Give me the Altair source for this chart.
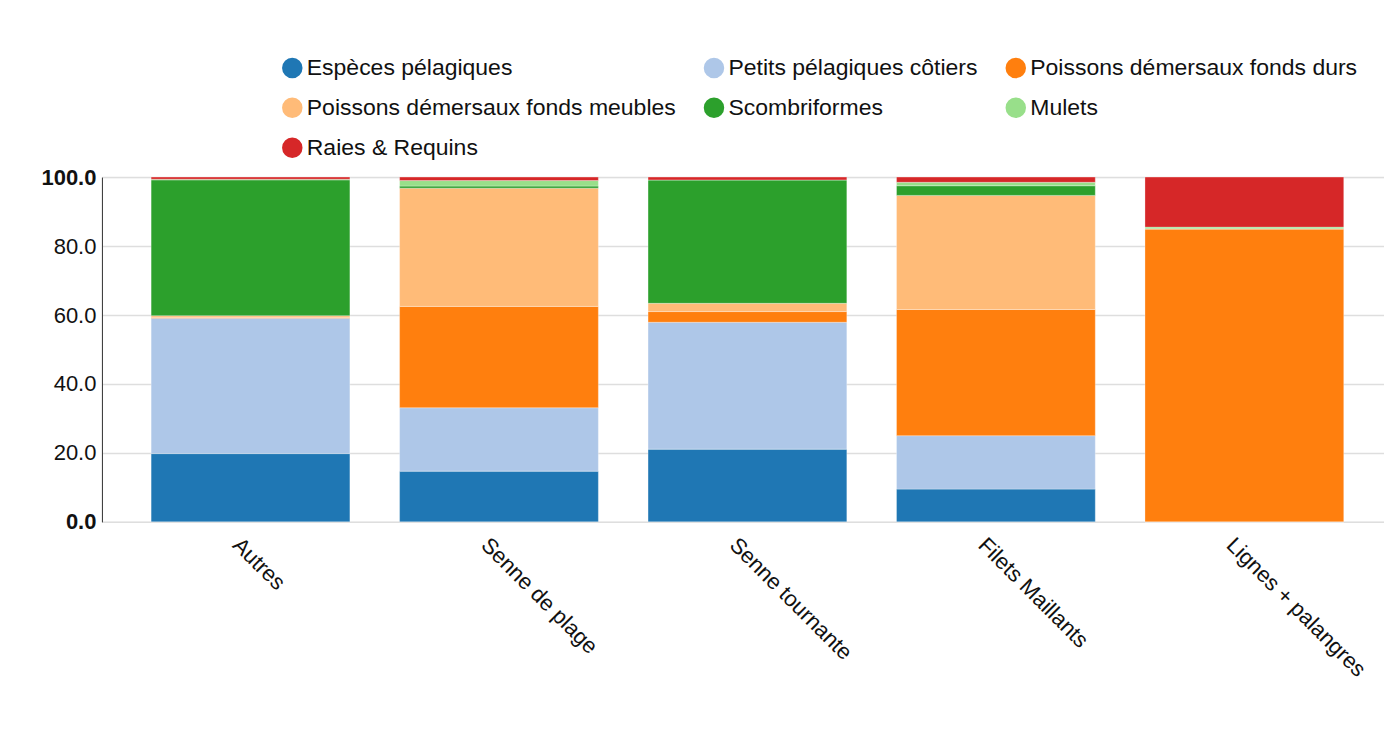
import altair as alt
import pandas as pd

engins = ["Autres", "Senne de plage", "Senne tournante", "Filets Maillants", "Lignes + palangres"]
groupes = [
    "Espèces pélagiques",
    "Petits pélagiques côtiers",
    "Poissons démersaux fonds durs",
    "Poissons démersaux fonds meubles",
    "Scombriformes",
    "Mulets",
    "Raies & Requins",
]
couleurs = ["#1f77b4", "#aec7e8", "#ff7f0e", "#ffbb78", "#2ca02c", "#98df8a", "#d62728"]

# percentages per gear, in the order of `groupes`
autres = [19.8, 39.3, 0.2, 0.5, 39.4, 0.2, 0.6]
senne_plage = [14.7, 18.4, 29.4, 34.3, 0.6, 1.6, 1.0]
senne_tournante = [21.1, 36.8, 3.1, 2.4, 35.8, 0.0, 0.8]
filets_maillants = [9.5, 15.5, 36.6, 33.1, 2.8, 1.0, 1.5]
lignes_palangres = [0.0, 0.0, 85.0, 0.0, 0.0, 0.5, 14.5]

y_ticks = [0, 20, 40, 60, 80, 100]

series = [autres, senne_plage, senne_tournante, filets_maillants, lignes_palangres]
rows = []
for eng, vals in zip(engins, series):
    for i, (g, v) in enumerate(zip(groupes, vals)):
        rows.append({"engin": eng, "groupe": g, "idx": i, "pct": v})
df = pd.DataFrame(rows)

FONT = "Liberation Sans"

chart = (
    alt.Chart(df)
    .mark_bar(stroke="white", strokeWidth=1, strokeOpacity=0.3)
    .encode(
        x=alt.X(
            "engin:N",
            sort=engins,
            title=None,
            scale=alt.Scale(paddingInner=0.2, paddingOuter=0.18, align=0.55),
            axis=alt.Axis(
                labelAngle=45,
                labelAlign="left",
                labelBaseline="top",
                labelFontSize=22,
                labelFont=FONT,
                labelColor="#111111",
                labelPadding=12,
                labelOffset=-7,
                labelLimit=600,
                ticks=False,
                domain=False,
                grid=False,
            ),
        ),
        y=alt.Y(
            "pct:Q",
            stack="zero",
            title=None,
            scale=alt.Scale(domain=[0, 100], nice=False),
            axis=alt.Axis(
                values=y_ticks,
                format=".1f",
                labelFontSize=22,
                labelFont=FONT,
                labelColor="#111111",
                labelFontWeight={
                    "condition": {"test": "datum.value == 0 || datum.value == 100", "value": "bold"},
                    "value": "normal",
                },
                labelPadding=6,
                ticks=False,
                domain=True,
                domainColor="#333333",
                domainWidth=1,
                grid=True,
                gridColor="#dedede",
                gridWidth=1.5,
            ),
        ),
        color=alt.Color(
            "groupe:N",
            sort=groupes,
            scale=alt.Scale(domain=groupes, range=couleurs),
            legend=alt.Legend(
                title=None,
                orient="none",
                direction="horizontal",
                legendX=179,
                legendY=-121,
                columns=3,
                symbolType="circle",
                symbolSize=420,
                symbolStrokeWidth=0,
                labelFontSize=23,
                labelFont=FONT,
                labelColor="#111111",
                labelOffset=3,
                columnPadding=26,
                rowPadding=16,
                labelLimit=500,
            ),
        ),
        order=alt.Order("idx:Q", sort="ascending"),
    )
    .properties(
        width=1283,
        height=345,
        padding={"top": 48, "left": 32, "right": 0, "bottom": 5},
    )
    .configure_view(stroke=None)
    .configure(background="white")
)

chart.save("out.html", embed_options={"renderer": "svg", "actions": False})
